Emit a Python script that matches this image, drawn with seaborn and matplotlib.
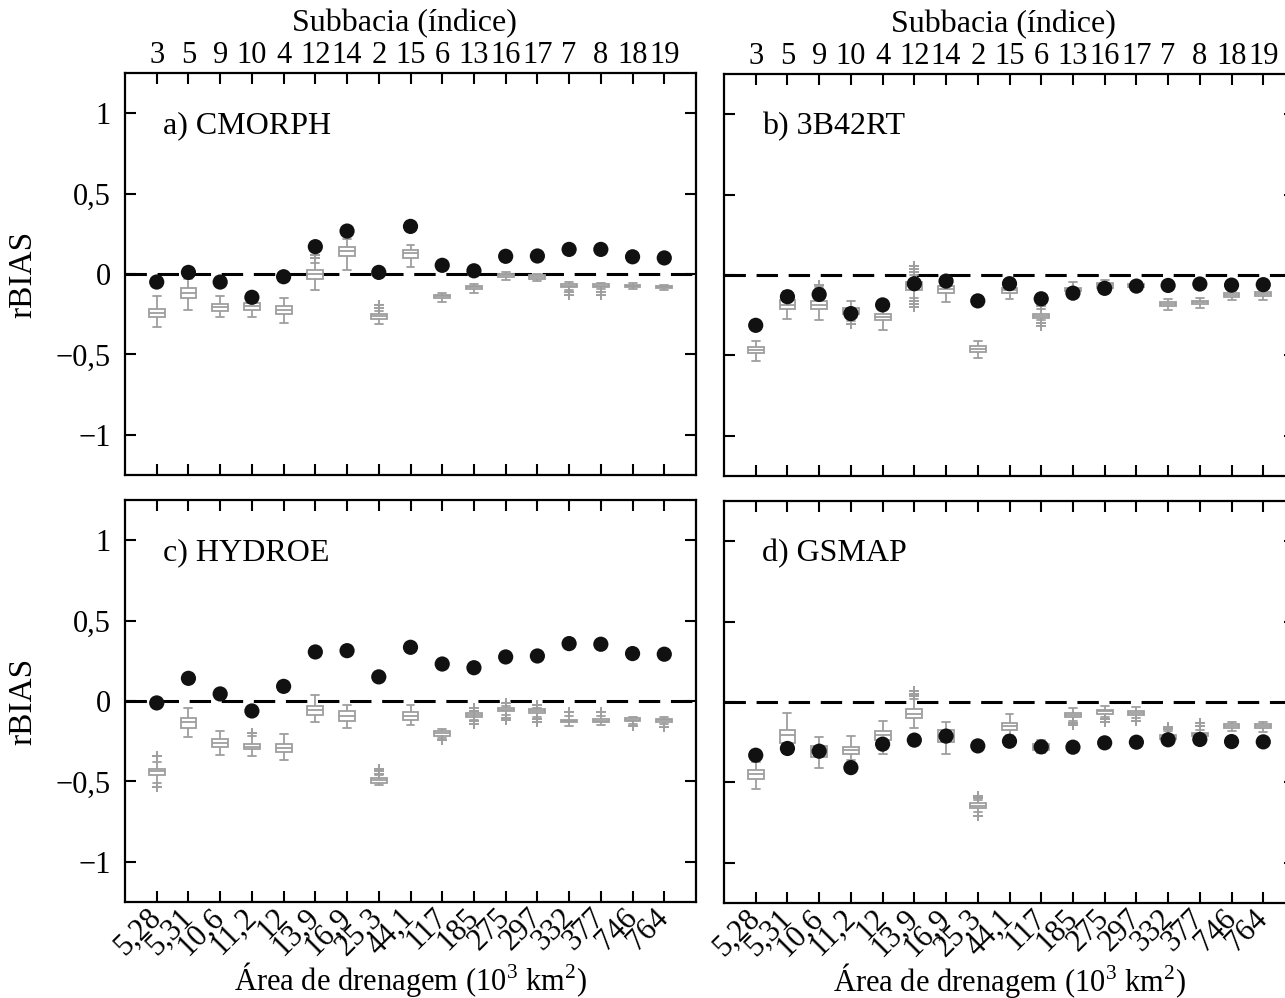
#!/usr/bin/env python3
"""
Relative bias (rBIAS) of four satellite precipitation products per subbasin:
grey boxes = ensemble spread, black dots = product estimate.
"""
import matplotlib
matplotlib.use("Agg")
import matplotlib.pyplot as plt
import pandas as pd
import seaborn as sns

# subbasin index (top axis) and drainage area in 10^3 km2 (bottom axis)
subbasins = ["3", "5", "9", "10", "4", "12", "14", "2", "15", "6",
             "13", "16", "17", "7", "8", "18", "19"]
areas = ["5,28", "5,31", "10,6", "11,2", "12", "13,9", "16,9", "25,3", "44,1",
         "117", "185", "275", "297", "332", "377", "746", "764"]

# ---- a) CMORPH
cmorph_dots = [-0.05, 0.01, -0.05, -0.145, -0.017, 0.17, 0.267, 0.01, 0.296,
               0.054, 0.02, 0.11, 0.112, 0.153, 0.153, 0.107, 0.10]
# (whisker low, q1, median, q3, whisker high)
cmorph_box = [(-0.327, -0.27, -0.24, -0.215, -0.135),
              (-0.224, -0.147, -0.116, -0.087, -0.03),
              (-0.27, -0.232, -0.207, -0.188, -0.139),
              (-0.265, -0.224, -0.2, -0.182, -0.165),
              (-0.304, -0.248, -0.224, -0.199, -0.151),
              (-0.101, -0.029, 0.0, 0.025, 0.066),
              (0.027, 0.11, 0.141, 0.168, 0.215),
              (-0.309, -0.28, -0.261, -0.248, -0.232),
              (0.042, 0.101, 0.128, 0.149, 0.182),
              (-0.174, -0.149, -0.137, -0.128, -0.116),
              (-0.118, -0.095, -0.083, -0.073, -0.062),
              (-0.037, -0.019, -0.008, 0.0, 0.01),
              (-0.043, -0.029, -0.019, -0.008, 0.0),
              (-0.099, -0.083, -0.073, -0.064, -0.052),
              (-0.095, -0.081, -0.073, -0.064, -0.054),
              (-0.095, -0.083, -0.075, -0.068, -0.058),
              (-0.101, -0.089, -0.081, -0.075, -0.066)]
cmorph_out = [(5, 0.097), (5, 0.118), (7, -0.19), (7, -0.21),
              (13, -0.112), (13, -0.128), (14, -0.112), (14, -0.128)]

# ---- b) 3B42RT
trmm_dots = [-0.313, -0.135, -0.121, -0.24, -0.186, -0.054, -0.038, -0.161, -0.054,
             -0.148, -0.113, -0.083, -0.069, -0.065, -0.056, -0.063, -0.06]
trmm_box = [(-0.535, -0.485, -0.464, -0.447, -0.408),
            (-0.271, -0.211, -0.184, -0.154, -0.098),
            (-0.278, -0.211, -0.184, -0.161, -0.075),
            (-0.286, -0.245, -0.226, -0.207, -0.159),
            (-0.339, -0.28, -0.259, -0.24, -0.188),
            (-0.14, -0.096, -0.069, -0.044, 0.0),
            (-0.167, -0.11, -0.09, -0.069, -0.016),
            (-0.516, -0.477, -0.46, -0.443, -0.408),
            (-0.152, -0.11, -0.094, -0.081, -0.025),
            (-0.282, -0.265, -0.253, -0.242, -0.21),
            (-0.125, -0.102, -0.09, -0.079, -0.042),
            (-0.094, -0.079, -0.065, -0.052, -0.031),
            (-0.088, -0.075, -0.065, -0.056, -0.046),
            (-0.219, -0.192, -0.182, -0.169, -0.148),
            (-0.203, -0.182, -0.169, -0.159, -0.142),
            (-0.155, -0.134, -0.123, -0.113, -0.098),
            (-0.155, -0.132, -0.119, -0.107, -0.088)]
trmm_out = [(2, -0.06), (3, -0.305), (5, 0.02), (5, 0.038), (5, 0.055),
            (5, -0.16), (5, -0.18), (5, -0.2), (9, -0.195), (9, -0.297), (9, -0.317)]

# ---- c) HYDROE
hydroe_dots = [-0.012, 0.141, 0.044, -0.062, 0.091, 0.305, 0.313, 0.15, 0.334,
               0.23, 0.207, 0.274, 0.28, 0.357, 0.353, 0.295, 0.291]
hydroe_box = [(-0.51, -0.459, -0.438, -0.42, -0.378),
              (-0.222, -0.17, -0.131, -0.104, -0.046),
              (-0.334, -0.289, -0.264, -0.239, -0.185),
              (-0.341, -0.301, -0.283, -0.266, -0.218),
              (-0.366, -0.32, -0.293, -0.266, -0.206),
              (-0.131, -0.089, -0.058, -0.031, 0.039),
              (-0.166, -0.125, -0.095, -0.064, -0.023),
              (-0.523, -0.507, -0.492, -0.48, -0.461),
              (-0.152, -0.116, -0.092, -0.071, -0.025),
              (-0.227, -0.216, -0.201, -0.187, -0.172),
              (-0.118, -0.1, -0.087, -0.077, -0.065),
              (-0.089, -0.064, -0.054, -0.044, -0.031),
              (-0.098, -0.075, -0.064, -0.052, -0.044),
              (-0.154, -0.133, -0.125, -0.116, -0.093),
              (-0.15, -0.133, -0.123, -0.114, -0.093),
              (-0.143, -0.125, -0.116, -0.108, -0.098),
              (-0.143, -0.129, -0.121, -0.112, -0.102)]
hydroe_out = [(0, -0.341), (0, -0.535), (3, -0.2), (7, -0.42), (7, -0.436), (7, -0.451),
              (9, -0.243), (10, -0.046), (10, -0.062), (10, -0.125), (10, -0.145),
              (11, -0.012), (11, -0.104), (11, -0.118), (12, -0.025), (12, -0.112),
              (12, -0.129), (13, -0.069), (14, -0.069), (15, -0.156), (16, -0.162)]

# ---- d) GSMAP
gsmap_dots = [-0.331, -0.289, -0.306, -0.408, -0.262, -0.237, -0.212, -0.273, -0.244,
              -0.279, -0.281, -0.254, -0.25, -0.235, -0.233, -0.246, -0.248]
gsmap_box = [(-0.539, -0.481, -0.45, -0.425, -0.371),
             (-0.276, -0.252, -0.208, -0.173, -0.069),
             (-0.413, -0.341, -0.296, -0.271, -0.219),
             (-0.36, -0.325, -0.298, -0.277, -0.212),
             (-0.325, -0.239, -0.208, -0.183, -0.121),
             (-0.16, -0.102, -0.075, -0.044, 0.02),
             (-0.325, -0.246, -0.21, -0.177, -0.127),
             (-0.683, -0.662, -0.646, -0.631, -0.61),
             (-0.208, -0.173, -0.148, -0.129, -0.075),
             (-0.319, -0.298, -0.279, -0.264, -0.237),
             (-0.117, -0.092, -0.079, -0.069, -0.037),
             (-0.094, -0.073, -0.058, -0.048, -0.023),
             (-0.1, -0.079, -0.067, -0.056, -0.031),
             (-0.26, -0.233, -0.221, -0.208, -0.18),
             (-0.235, -0.214, -0.202, -0.191, -0.175),
             (-0.183, -0.162, -0.15, -0.139, -0.123),
             (-0.187, -0.162, -0.15, -0.139, -0.125)]
gsmap_out = [(5, 0.038), (5, 0.052), (5, 0.067), (7, -0.585), (7, -0.6), (7, -0.71),
             (10, -0.129), (10, -0.145), (11, -0.106), (11, -0.125), (12, -0.121),
             (13, -0.154), (13, -0.169), (14, -0.133), (14, -0.148)]

panels = [
    ("a) CMORPH", cmorph_dots, cmorph_box, cmorph_out),
    ("b) 3B42RT", trmm_dots, trmm_box, trmm_out),
    ("c) HYDROE", hydroe_dots, hydroe_box, hydroe_out),
    ("d) GSMAP", gsmap_dots, gsmap_box, gsmap_out),
]

GRAY = "#9e9e9e"
W, H = 1285, 998
# axes rectangles in pixels: left, top, width, height
rects = [(125, 73, 571, 402), (724, 74, 571, 402),
         (125, 500, 571, 402), (724, 501, 571, 402)]

sns.set_theme(style="ticks")
plt.rcParams["font.family"] = ["Liberation Serif", "DejaVu Serif"]
plt.rcParams["mathtext.fontset"] = "custom"
plt.rcParams["mathtext.rm"] = "Liberation Serif"
plt.rcParams["text.color"] = "black"
plt.rcParams["axes.edgecolor"] = "black"
plt.rcParams["axes.labelcolor"] = "black"
plt.rcParams["xtick.color"] = "black"
plt.rcParams["ytick.color"] = "black"

fig = plt.figure(figsize=(W / 100, H / 100), dpi=100)

for k, (title, dots, box, out) in enumerate(panels):
    l, t, w, h = rects[k]
    ax = fig.add_axes([l / W, 1 - (t + h) / H, w / W, h / H])

    rows = [(i, v) for i, stats in enumerate(box) for v in stats]
    df = pd.DataFrame(rows, columns=["pos", "rbias"])
    ax.axhline(0, color="black", lw=2.2, dashes=(7, 3.5), zorder=1)
    sns.boxplot(data=df, x="pos", y="rbias", native_scale=True, orient="x",
                whis=(0, 100), width=0.5, color="white", linecolor=GRAY,
                linewidth=1.3, saturation=1, showfliers=False, ax=ax)

    fl = pd.DataFrame(out, columns=["pos", "rbias"])
    sns.scatterplot(data=fl, x="pos", y="rbias", marker="+", color=GRAY,
                    s=45, linewidth=1.4, ax=ax, zorder=3)

    pts = pd.DataFrame({"pos": range(len(dots)), "rbias": dots})
    sns.scatterplot(data=pts, x="pos", y="rbias", color="#111111", s=120,
                    edgecolor="none", ax=ax, zorder=4)

    ax.set_xlim(-1, 17)
    ax.set_ylim(-1.25, 1.25)
    ax.set_xticks(range(17))
    ax.set_yticks([-1, -0.5, 0, 0.5, 1])
    ax.set_yticklabels(["\u22121", "\u22120,5", "0", "0,5", "1"])
    for s in ax.spines.values():
        s.set_linewidth(1.6)
        s.set_visible(True)

    ax.tick_params(direction="in", length=8, width=1.5, top=True, right=True,
                   bottom=True, left=True, labelsize=22)
    ax.tick_params(axis="y", pad=10)

    if k < 2:
        ax.set_xticklabels(subbasins)
        ax.tick_params(axis="x", labeltop=True, labelbottom=False, pad=2)
        ax.xaxis.set_label_position("top")
        ax.set_xlabel("Subbacia (índice)", fontsize=23)
        ax.xaxis.set_label_coords(0.49, 1.105)
    else:
        ax.set_xticklabels(areas, rotation=45, ha="right", va="center",
                           rotation_mode="anchor")
        ax.tick_params(axis="x", labeltop=False, labelbottom=True, pad=8)
        ax.set_xlabel(r"Área de drenagem (10$^{3}$ km$^{2}$)", fontsize=22)
        ax.xaxis.set_label_coords(0.5, -0.145)

    if k % 2 == 0:
        ax.set_ylabel("rBIAS", fontsize=24)
        ax.yaxis.set_label_coords(-0.152, 0.5)
    else:
        ax.set_ylabel("")
        ax.tick_params(axis="y", labelleft=False)

    ax.text(0.067, 0.868, title, transform=ax.transAxes, fontsize=23,
            ha="left", va="center")

fig.savefig("out.png", dpi=100)
plt.close(fig)
